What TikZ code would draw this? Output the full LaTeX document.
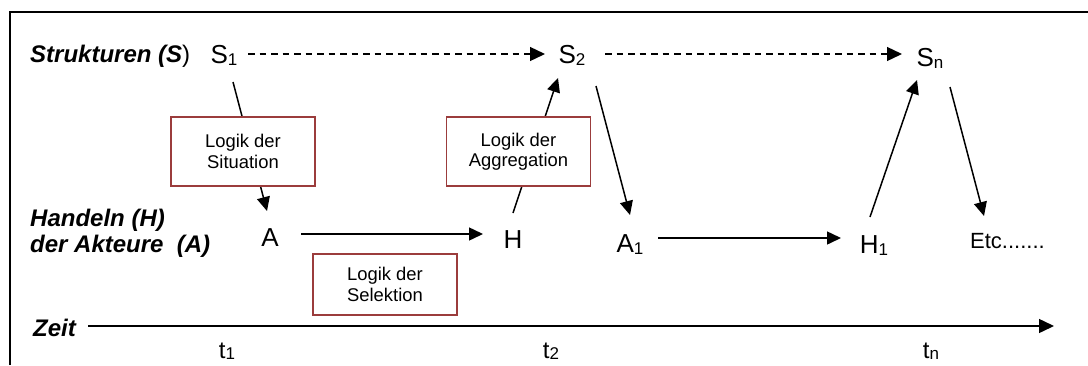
\documentclass[tikz,border=0pt]{standalone}
\usepackage{fontspec}
\setmainfont{Liberation Sans}
\usetikzlibrary{arrows.meta,calc}
\definecolor{boxred}{RGB}{155,60,60}
\newcommand{\lowsub}[2][2pt]{\raisebox{-#1}{\fontsize{17}{17}\selectfont #2}}
\begin{document}
\begin{tikzpicture}[x=1pt,y=-1pt,
  lbl/.style={inner sep=0pt, anchor=base, font=\fontsize{26}{30}\selectfont},
  tlbl/.style={inner sep=0pt, anchor=base, font=\fontsize{24}{28}\selectfont},
  hd/.style={inner sep=0pt, anchor=base west, font=\fontsize{24}{28}\selectfont\bfseries\itshape},
  logik/.style={draw=boxred, line width=1.5pt, fill=white, minimum width=144pt, minimum height=69pt, align=center, inner sep=0pt, font=\fontsize{18.4}{20.5}\selectfont},
  arr/.style={line width=1.5pt, -{Triangle[length=14pt,width=13pt]}},
  darr/.style={line width=1.3pt, dash pattern=on 6.5pt off 5pt, -{Triangle[length=15pt,width=14pt]}},
  tarr/.style={line width=1.5pt, -{Triangle[length=15pt,width=14pt]}},
  frame/.style={line width=2pt}
]
\useasboundingbox (0,0) rectangle (1088,365);
\draw[frame] (9.5,365) -- (9.5,12) -- (1088,12);

% row labels
\node[hd] (strukt) at (30,62) {Strukturen (S{\normalfont )}};
\node[hd] (handeln) at (30,226.5) {Handeln (H)};
\node[hd] (akteure) at (30,252.5) {der Akteure\ \ (A)};
\node[hd] (zeit) at (33,336.7) {Zeit};

% letters
\node[lbl] (S1) at (224,63) {S\lowsub{1}};
\node[lbl] (S2) at (572,63) {S\lowsub{2}};
\node[lbl] (Sn) at (930,66.5) {S\lowsub{n}};
\node[lbl] (A) at (270,246.7) {A};
\node[lbl] (H) at (513,248) {H};
\node[lbl] (A1) at (630,252.5) {A\lowsub{1}};
\node[lbl] (H1) at (874,253) {H\lowsub{1}};
\node[inner sep=0pt, anchor=base west, font=\fontsize{22}{26}\selectfont] (etc) at (970,248) {Etc.......};
\node[tlbl] (t1) at (227,358) {t\lowsub[1pt]{1}};
\node[tlbl] (t2) at (551,358) {t\lowsub[1pt]{2}};
\node[tlbl] (tn) at (931,358) {t\lowsub[1pt]{n}};

% connectors
\draw[darr] ($(S1.base)+(24,-9)$) -- ($(S2.base)+(-27,-9)$);
\draw[darr] ($(S2.base)+(33,-9)$) -- ($(Sn.base)+(-28,-12.5)$);
\draw[arr] ($(S1.base)+(9,19)$) -- ($(A.base)+(-3,-35.7)$);
\draw[arr] ($(A.base)+(31,-12.7)$) -- ($(H.base)+(-30,-14)$);
\draw[arr] ($(H.base)+(0,-35)$) -- ($(S2.base)+(-14,15)$);
\draw[arr] ($(S2.base)+(24,23)$) -- ($(A1.base)+(0,-37.5)$);
\draw[arr] ($(A1.base)+(28,-14.5)$) -- ($(H1.base)+(-33,-15)$);
\draw[arr] ($(H1.base)+(-4,-36)$) -- ($(Sn.base)+(-13,13.5)$);
\draw[arr] ($(Sn.base)+(20,20.5)$) -- ($(etc.base west)+(14,-32)$);
\coordinate (tend) at (1054,326);
\draw[tarr] ($(zeit.base west)+(55,-10.7)$) -- (tend);

% logic boxes
\node[logik] (sit) at (243,151.5) {Logik der\\Situation};
\node[logik] (agg) at (518.5,151.5) {Logik der\\Aggregation};
\node[logik, minimum height=61pt] (sel) at (385,284.5) {Logik der\\Selektion};
\end{tikzpicture}
\end{document}
